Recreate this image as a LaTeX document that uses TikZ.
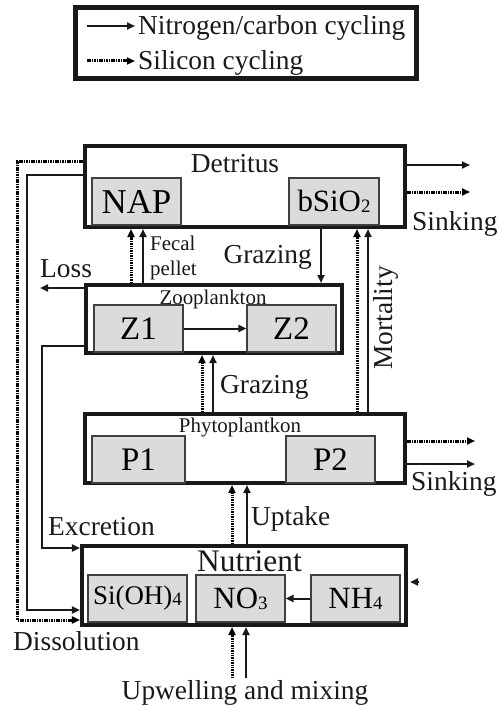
\documentclass[tikz,border=0pt]{standalone}
\usepackage{fontspec}
\setmainfont{Liberation Serif}
\usetikzlibrary{arrows.meta}
\tikzset{
  mainbox/.style={draw=black!90, line width=4bp, fill=white, inner sep=0pt},
  legbox/.style={draw=black!90, line width=5bp, fill=white, inner sep=0pt},
  subbox/.style={draw=black!75, line width=1.2bp, fill=black!14, inner sep=0pt},
  sol/.style={draw=black!90, line width=2bp, -{Triangle[length=8bp,width=7bp]}},
  dot/.style={draw=black, line width=3bp, dash pattern=on 1.5bp off 0.9bp, -{Triangle[length=8bp,width=7bp]}},
  txt/.style={font=\fontsize{27.5}{30}\selectfont, inner sep=0pt, text=black!90},
  small/.style={font=\fontsize{21}{23}\selectfont, inner sep=0pt, text=black!90},
}
\newcommand{\mysub}[1]{{\fontsize{19}{20}\selectfont\raisebox{-1bp}{#1}}}
\begin{document}
\begin{tikzpicture}[x=1bp,y=-1bp]
\useasboundingbox (0,0) rectangle (498,706);
% legend
\node[legbox, minimum width=341bp, minimum height=71bp] (leg) at (246,43) {};
\coordinate (l1a) at (87,26); \coordinate (l1b) at (135,26);
\coordinate (l2a) at (87,61); \coordinate (l2b) at (135,61);
\draw[sol] (l1a) -- (l1b);
\draw[dot] (l2a) -- (l2b);
\node[txt, anchor=base west] (lt1) at (138,35) {Nitrogen/carbon cycling};
\node[txt, anchor=base west] (lt2) at (138,70) {Silicon cycling};
% main boxes
\node[mainbox, minimum width=320bp, minimum height=81bp] (det) at (245,186.5) {};
\node[mainbox, minimum width=256bp, minimum height=68bp] (zoo) at (214,319) {};
\node[mainbox, minimum width=320bp, minimum height=69bp] (phy) at (245,448.5) {};
\node[mainbox, minimum width=324bp, minimum height=79bp] (nut) at (244,585.5) {};
% titles
\node[txt, anchor=base] (dett) at (235,172) {Detritus};
\node[small, anchor=base] (zoot) at (213,304) {Zooplankton};
\node[small, anchor=base] (phyt) at (240,432) {Phytoplantkon};
\node[font=\fontsize{31.5}{34}\selectfont, inner sep=0pt, text=black!90, anchor=base] (nutt) at (249.5,571) {Nutrient};
% sub boxes
\node[subbox, minimum width=89bp, minimum height=47bp, font=\fontsize{35}{38}\selectfont] (nap) at (136.5,201.5) {NAP};
\node[subbox, minimum width=90bp, minimum height=47bp, font=\fontsize{31}{34}\selectfont] (bsi) at (334,201.5) {bSiO\mysub{2}};
\node[subbox, minimum width=89bp, minimum height=47bp, font=\fontsize{33}{36}\selectfont] (z1) at (138.5,328.5) {Z1};
\node[subbox, minimum width=89bp, minimum height=47bp, font=\fontsize{33}{36}\selectfont] (z2) at (291.5,328.5) {Z2};
\node[subbox, minimum width=93bp, minimum height=47bp, font=\fontsize{33}{36}\selectfont] (p1) at (138.5,459.5) {P1};
\node[subbox, minimum width=89bp, minimum height=47bp, font=\fontsize{33}{36}\selectfont] (p2) at (330.5,459.5) {P2};
\node[subbox, minimum width=99bp, minimum height=47bp, font=\fontsize{27}{30}\selectfont] (si) at (137.5,598.5) {Si(OH)\mysub{4}};
\node[subbox, minimum width=89bp, minimum height=47bp, font=\fontsize{31}{34}\selectfont] (no) at (240.5,598.5) {NO\mysub{3}};
\node[subbox, minimum width=89bp, minimum height=47bp, font=\fontsize{31}{34}\selectfont] (nh) at (355.5,598.5) {NH\mysub{4}};
% internal arrows
\draw[sol] (z1.east) -- (z2.west);
\draw[sol] (nh.west) -- (no.east);
% fecal pellet
\draw[dot] (131,0 |- zoo.north) -- (131,0 |- det.south);
\draw[sol] (143,0 |- zoo.north) -- (143,0 |- det.south);
\node[small, anchor=base west] (fec1) at (150,250) {Fecal};
\node[small, anchor=base west] (fec2) at (150,275) {pellet};
% grazing detritus -> zoo
\draw[sol] (321,0 |- det.south) -- (321,0 |- zoo.north);
\node[txt, anchor=base east] (gr1) at (312,263) {Grazing};
% grazing phyto -> zoo
\draw[dot] (202,0 |- phy.north) -- (202,0 |- zoo.south);
\draw[sol] (213,0 |- phy.north) -- (213,0 |- zoo.south);
\node[txt, anchor=base west] (gr2) at (220,393) {Grazing};
% mortality
\draw[dot] (357,0 |- phy.north) -- (357,0 |- det.south);
\draw[sol] (368,0 |- phy.north) -- (368,0 |- det.south);
\node[txt, rotate=90] (mort) at (386,318) {Mortality};
% uptake
\draw[dot] (232,0 |- nut.north) -- (232,0 |- phy.south);
\draw[sol] (247,0 |- nut.north) -- (247,0 |- phy.south);
\node[txt, anchor=base west] (upt) at (251,525) {Uptake};
% upwelling
\coordinate (up1) at (232,678); \coordinate (up2) at (246,678);
\draw[dot] (up1) -- (up1 |- nut.south);
\draw[sol] (up2) -- (up2 |- nut.south);
\node[txt, anchor=base] (upw) at (245,699) {Upwelling and mixing};
% sinking detritus
\coordinate (sd1) at (470,165); \coordinate (sd2) at (470,192);
\draw[sol] (det.east |- sd1) -- (sd1);
\draw[dot] (det.east |- sd2) -- (sd2);
\node[txt, anchor=base west] (sk1) at (412,230) {Sinking};
% sinking phyto
\coordinate (sp1) at (475,441); \coordinate (sp2) at (475,464);
\draw[dot] (phy.east |- sp1) -- (sp1);
\draw[sol] (phy.east |- sp2) -- (sp2);
\node[txt, anchor=base west] (sk2) at (411,490) {Sinking};
% loss
\coordinate (loss) at (40,288);
\draw[sol] (zoo.west |- loss) -- (loss);
\node[txt, anchor=base west] (losst) at (40,277) {Loss};
% excretion
\coordinate (ex1) at (42,346); \coordinate (ex2) at (42,548);
\draw[sol] (zoo.west |- ex1) -- (ex1) -- (ex2) -- (nut.west |- ex2);
\node[txt, anchor=base west] (ext) at (48,535) {Excretion};
% dissolution
\coordinate (ds1) at (17,161); \coordinate (ds2) at (17,620);
\draw[dot] (det.west |- ds1) -- (ds1) -- (ds2) -- (nut.west |- ds2);
\coordinate (dn1) at (27,175); \coordinate (dn2) at (27,610);
\draw[sol] (det.west |- dn1) -- (dn1) -- (dn2) -- (nut.west |- dn2);
\node[txt, anchor=base west] (dist) at (13,650) {Dissolution};
% small arrowhead at nutrient right
\coordinate (rin) at (419,582);
\draw[sol] (rin) -- ([xshift=2bp]nut.east |- rin);
\end{tikzpicture}
\end{document}
